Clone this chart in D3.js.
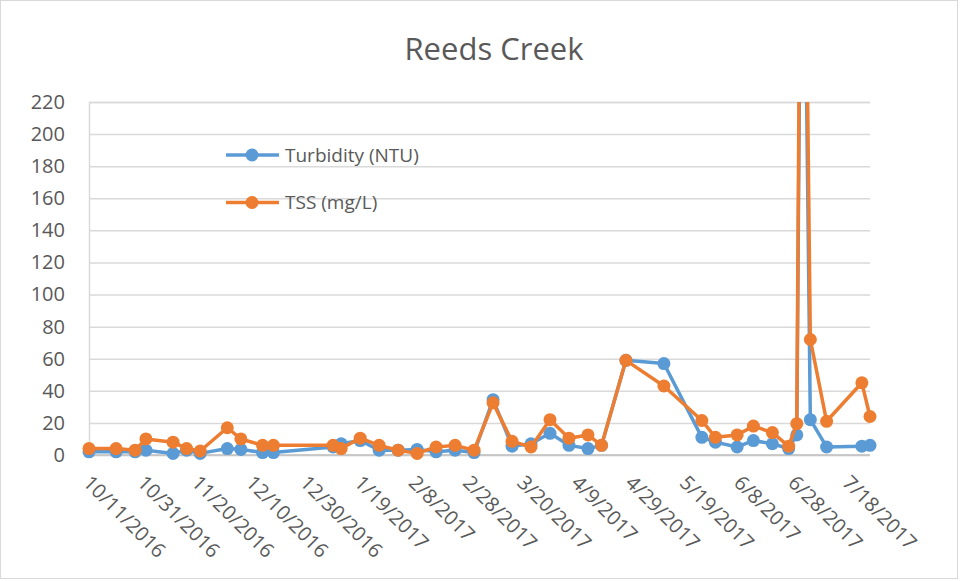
<!DOCTYPE html>
<html>
<head>
<meta charset="utf-8">
<script src="https://cdn.jsdelivr.net/npm/d3@7"></script>
<style>
  body { margin: 0; background: #fff; }
  svg { display: block; font-family: "Open Sans", sans-serif; }
</style>
</head>
<body>
<div id="chart"></div>
<script>
// sample dates and readings
const dates = ['10/11/2016','10/21/2016','10/28/2016','11/1/2016','11/11/2016','11/16/2016','11/21/2016',
  '12/1/2016','12/6/2016','12/14/2016','12/18/2016','1/9/2017','1/12/2017','1/19/2017','1/26/2017',
  '2/2/2017','2/9/2017','2/16/2017','2/23/2017','3/2/2017','3/9/2017','3/16/2017','3/23/2017','3/30/2017',
  '4/6/2017','4/13/2017','4/18/2017','4/27/2017','5/11/2017','5/25/2017','5/30/2017','6/7/2017','6/13/2017',
  '6/20/2017','6/26/2017','6/29/2017','7/1/2017','7/4/2017','7/10/2017','7/23/2017','7/26/2017'];
const turbidity = [2, 2, 2, 3, 1, 3, 1, 4, 3.5, 1.5, 1.5, 5, 7, 9, 3, 3, 3.5, 2, 3, 1.5, 34.5, 5.5, 7, 13.5,
  6, 4, 6, 59, 57, 11, 8, 5, 9, 7, 4, 12.5, 460, 22, 5, 5.5, 6];
const tss = [4, 4, 3, 10, 8, 4, 2.5, 17, 10, 6, 6, 6, 4, 10.5, 6, 3, 1, 5, 6, 3, 32.5, 8.5, 5, 22,
  10.5, 12.5, 6, 59, 43, 21.5, 11, 12.5, 18, 14, 5.5, 19.5, 520, 72, 21, 45, 24];
const xTickLabels = ['10/11/2016','10/31/2016','11/20/2016','12/10/2016','12/30/2016','1/19/2017','2/8/2017',
  '2/28/2017','3/20/2017','4/9/2017','4/29/2017','5/19/2017','6/8/2017','6/28/2017','7/18/2017'];
const yTicks = [0, 20, 40, 60, 80, 100, 120, 140, 160, 180, 200, 220];

const series = [
  {name: 'Turbidity (NTU)', values: turbidity, color: '#5B9BD5'},
  {name: 'TSS (mg/L)', values: tss, color: '#ED7D31'}
];

const width = 961, height = 581;
const plot = {left: 89, right: 870, top: 102, bottom: 455};
const parse = d3.timeParse('%m/%d/%Y');

const svg = d3.select('#chart').append('svg')
  .attr('width', width)
  .attr('height', height);

svg.append('rect')
  .attr('x', 0.5).attr('y', 0.5)
  .attr('width', width - 4).attr('height', height - 3)
  .attr('fill', '#fff')
  .attr('stroke', '#d9d9d9');

const xScale = d3.scaleTime()
  .domain([parse(dates[0]), parse(dates[dates.length - 1])])
  .range([plot.left, plot.right]);

const yScale = d3.scaleLinear()
  .domain([0, 220])
  .range([plot.bottom, plot.top]);

// gridlines + y labels
const yAxis = d3.axisLeft(yScale)
  .tickValues(yTicks)
  .tickSize(-(plot.right - plot.left))
  .tickPadding(24);

svg.append('g')
  .attr('transform', `translate(${plot.left},0)`)
  .call(yAxis)
  .call(g => g.select('.domain').attr('stroke', '#d9d9d9').attr('stroke-width', 1.5))
  .call(g => g.selectAll('.tick line').attr('stroke', '#d9d9d9').attr('stroke-width', 1.5))
  .call(g => g.selectAll('.tick text')
    .attr('fill', '#595959')
    .attr('font-size', 20)
    .attr('font-family', '"Open Sans", sans-serif'));

// bottom axis line
svg.append('line')
  .attr('x1', plot.left).attr('x2', plot.right)
  .attr('y1', yScale(0)).attr('y2', yScale(0))
  .attr('stroke', '#bfbfbf')
  .attr('stroke-width', 1.5);

// rotated date labels
svg.append('g')
  .selectAll('text')
  .data(xTickLabels)
  .join('text')
  .attr('transform', d => `translate(${xScale(parse(d)) - 7},${plot.bottom + 29}) rotate(45)`)
  .attr('fill', '#595959')
  .attr('font-size', 20)
  .text(d => d);

// clip only the top so the spike is cut at 220
svg.append('clipPath')
  .attr('id', 'clip')
  .append('rect')
  .attr('x', 0).attr('y', plot.top)
  .attr('width', width).attr('height', height - plot.top);

const line = d3.line()
  .x((d, i) => xScale(parse(dates[i])))
  .y(d => yScale(d));

const layer = svg.append('g').attr('clip-path', 'url(#clip)');

series.forEach(s => {
  const g = layer.append('g');
  g.append('path')
    .datum(s.values)
    .attr('fill', 'none')
    .attr('stroke', s.color)
    .attr('stroke-width', 3.5)
    .attr('stroke-linejoin', 'round')
    .attr('d', line);
  g.selectAll('circle')
    .data(s.values)
    .join('circle')
    .attr('cx', (d, i) => xScale(parse(dates[i])))
    .attr('cy', d => yScale(d))
    .attr('r', 6.5)
    .attr('fill', s.color);
});

// legend
const legend = svg.append('g');
series.forEach((s, i) => {
  const y = 155 + i * 47.5;
  legend.append('line')
    .attr('x1', 226).attr('x2', 279)
    .attr('y1', y).attr('y2', y)
    .attr('stroke', s.color)
    .attr('stroke-width', 3.5);
  legend.append('circle')
    .attr('cx', 252).attr('cy', y)
    .attr('r', 6.5)
    .attr('fill', s.color);
  legend.append('text')
    .attr('x', 285).attr('y', y)
    .attr('dy', '0.35em')
    .attr('fill', '#595959')
    .attr('font-size', 19)
    .text(s.name);
});

// title
svg.append('text')
  .attr('x', 494).attr('y', 60)
  .attr('text-anchor', 'middle')
  .attr('fill', '#595959')
  .attr('font-size', 31)
  .text('Reeds Creek');
</script>
</body>
</html>
